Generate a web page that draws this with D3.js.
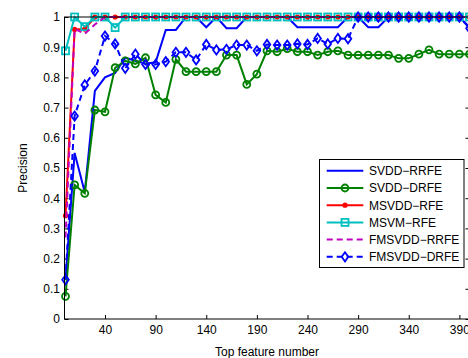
<!DOCTYPE html>
<html>
<head>
<meta charset="utf-8">
<script src="https://cdn.jsdelivr.net/npm/d3@7"></script>
<style>
  body { margin: 0; background: #fff; }
  text { font-family: "Liberation Sans", Arial, Helvetica, sans-serif; font-size: 12px; fill: #000; }
</style>
</head>
<body>
<script>
// feature counts on the x axis
var features = [1, 10, 20, 30, 40, 50, 60, 70, 80, 90, 100, 110, 120, 130, 140, 150, 160, 170, 180, 190, 200,
                210, 220, 230, 240, 250, 260, 270, 280, 290, 300, 310, 320, 330, 340, 350, 360, 370, 380, 390, 400];

var svddRRFE = [0.13, 0.55, 0.42, 0.755, 0.80, 0.815, 0.865, 0.855, 0.845, 0.85, 0.957, 0.957, 1, 1, 0.966, 1, 0.963, 0.963, 1, 1, 1,
                1, 1, 0.966, 0.966, 0.966, 0.966, 0.966, 1, 1, 0.966, 0.966, 1, 1, 1, 1, 1, 1, 1, 1, 0.966];
var svddDRFE = [0.075, 0.444, 0.416, 0.692, 0.686, 0.832, 0.855, 0.845, 0.865, 0.742, 0.717, 0.86, 0.819, 0.819, 0.819, 0.819, 0.874, 0.874, 0.777, 0.811, 0.888,
                0.885, 0.895, 0.885, 0.885, 0.874, 0.885, 0.888, 0.874, 0.874, 0.874, 0.874, 0.874, 0.863, 0.863, 0.877, 0.891, 0.877, 0.877, 0.877, 0.877];
var msvddRFE = [0.342, 0.959, 0.96, 1, 1, 1, 1, 1, 1, 1, 1, 1, 1, 1, 1, 1, 1, 1, 1, 1, 1,
                1, 1, 1, 1, 1, 1, 1, 1, 1, 1, 1, 1, 1, 1, 1, 1, 1, 1, 1, 1];
var msvmRFE = [0.888, 1, 0.968, 1, 1, 0.965, 1, 1, 1, 1, 1, 1, 1, 1, 1, 1, 1, 1, 1, 1, 1,
               1, 1, 1, 1, 1, 1, 1, 1, 1, 1, 1, 1, 1, 1, 1, 1, 1, 1, 1, 1];
var fmsvddRRFE = [0.27, 0.96, 0.945, 0.975, 1, 1, 1, 1, 1, 1, 1, 1, 1, 1, 1, 1, 1, 1, 1, 1, 1,
                  1, 1, 1, 1, 1, 1, 1, 1, 1, 1, 1, 1, 1, 1, 1, 1, 1, 1, 1, 1];
var fmsvddDRFE = [0.13, 0.672, 0.775, 0.821, 0.937, 0.911, 0.83, 0.877, 0.843, 0.843, 0.852, 0.883, 0.883, 0.858, 0.909, 0.891, 0.893, 0.907, 0.907, 0.888, 0.909,
                  0.907, 0.907, 0.911, 0.909, 0.929, 0.911, 0.929, 0.928, 1, 1, 1, 1, 1, 1, 1, 1, 1, 1, 1, 0.963];

var seriesNames = ["SVDD\u2212RRFE", "SVDD\u2212DRFE", "MSVDD\u2212RFE", "MSVM\u2212RFE", "FMSVDD\u2212RRFE", "FMSVDD\u2212DRFE"];
var xTicks = [40, 90, 140, 190, 240, 290, 340, 390];
var yTicks = [0, 0.1, 0.2, 0.3, 0.4, 0.5, 0.6, 0.7, 0.8, 0.9, 1];

var W = 468, H = 358;
var plotL = 64.5, plotR = 469.5, plotT = 17, plotB = 319;

var svg = d3.select("body").append("svg")
    .attr("width", W).attr("height", H);

var x = d3.scaleLinear().domain([0, 400]).range([plotL, plotR]);
var y = d3.scaleLinear().domain([0, 1]).range([plotB, plotT]);

// styles for each series
var styles = [
  {data: svddRRFE,   color: "#0000ff", dash: null,  marker: null},
  {data: svddDRFE,   color: "#008000", dash: null,  marker: "circle"},
  {data: msvddRFE,   color: "#ff0000", dash: null,  marker: "dot"},
  {data: msvmRFE,    color: "#00bfbf", dash: null,  marker: "square"},
  {data: fmsvddRRFE, color: "#bf00bf", dash: "6,4", marker: null},
  {data: fmsvddDRFE, color: "#0000ff", dash: "6,4", marker: "diamond"}
];

function drawMarker(g, type, color) {
  if (type == "circle") {
    g.append("circle").attr("r", 3.5).attr("fill", "none").attr("stroke", color).attr("stroke-width", 1.8);
  } else if (type == "dot") {
    g.append("circle").attr("r", 2.6).attr("fill", color);
  } else if (type == "square") {
    g.append("rect").attr("x", -3.5).attr("y", -3.5).attr("width", 7).attr("height", 7)
      .attr("fill", "none").attr("stroke", color).attr("stroke-width", 1.8);
  } else if (type == "diamond") {
    g.append("path").attr("d", "M0,-4.6L3.3,0L0,4.6L-3.3,0Z")
      .attr("fill", "none").attr("stroke", color).attr("stroke-width", 1.8);
  }
}

// box and ticks
var ax = svg.append("g");
ax.append("g").attr("transform", "translate(0," + plotB + ")")
  .call(d3.axisBottom(x).tickValues(xTicks).tickSizeInner(-4).tickSizeOuter(0).tickPadding(6));
ax.append("g").attr("transform", "translate(0," + plotT + ")")
  .call(d3.axisTop(x).tickValues(xTicks).tickSizeInner(-4).tickSizeOuter(0).tickFormat(""));
ax.append("g").attr("transform", "translate(" + plotL + ",0)")
  .call(d3.axisLeft(y).tickValues(yTicks).tickSizeInner(-4).tickSizeOuter(0).tickPadding(4.5)
    .tickFormat(function(d){ return d3.format("~g")(d); }));
ax.append("g").attr("transform", "translate(" + plotR + ",0)")
  .call(d3.axisRight(y).tickValues(yTicks).tickSizeInner(-4).tickSizeOuter(0).tickFormat(""));
ax.selectAll(".domain").remove();
ax.selectAll(".tick line").attr("stroke", "#000");
ax.selectAll(".tick text").attr("font-family", null).attr("font-size", null);

var line = d3.line()
    .x(function(d, i){ return x(features[i]); })
    .y(function(d){ return y(d); });

styles.forEach(function(s) {
  svg.append("path").datum(s.data)
    .attr("d", line)
    .attr("fill", "none")
    .attr("stroke", s.color)
    .attr("stroke-width", 2)
    .attr("stroke-dasharray", s.dash);
  if (s.marker) {
    svg.append("g").selectAll("g").data(s.data).enter().append("g")
      .attr("transform", function(d, i){ return "translate(" + x(features[i]) + "," + y(d) + ")"; })
      .each(function(){ drawMarker(d3.select(this), s.marker, s.color); });
  }
});

svg.append("rect")
  .attr("x", plotL).attr("y", plotT)
  .attr("width", plotR - plotL).attr("height", plotB - plotT)
  .attr("fill", "none").attr("stroke", "#000").attr("stroke-width", 1);

// labels
svg.append("text").attr("x", (plotL + plotR) / 2).attr("y", 356)
  .attr("text-anchor", "middle").text("Top feature number");
svg.append("text").attr("transform", "translate(26.5," + ((plotT + plotB) / 2) + ") rotate(-90)")
  .attr("text-anchor", "middle").text("Precision");

// legend
var lg = svg.append("g");
lg.append("rect").attr("x", 319.5).attr("y", 159.5).attr("width", 144.5).attr("height", 108)
  .attr("fill", "#fff").attr("stroke", "#000").attr("stroke-width", 1);
styles.forEach(function(s, i) {
  var ry = 170.8 + i * 17.2;
  lg.append("line").attr("x1", 326.7).attr("x2", 363.3).attr("y1", ry).attr("y2", ry)
    .attr("stroke", s.color).attr("stroke-width", 2).attr("stroke-dasharray", s.dash);
  if (s.marker) {
    var m = lg.append("g").attr("transform", "translate(345," + ry + ")");
    drawMarker(m, s.marker, s.color);
  }
  lg.append("text").attr("x", 369).attr("y", ry).attr("dy", "0.36em").text(seriesNames[i]);
});
</script>
</body>
</html>
